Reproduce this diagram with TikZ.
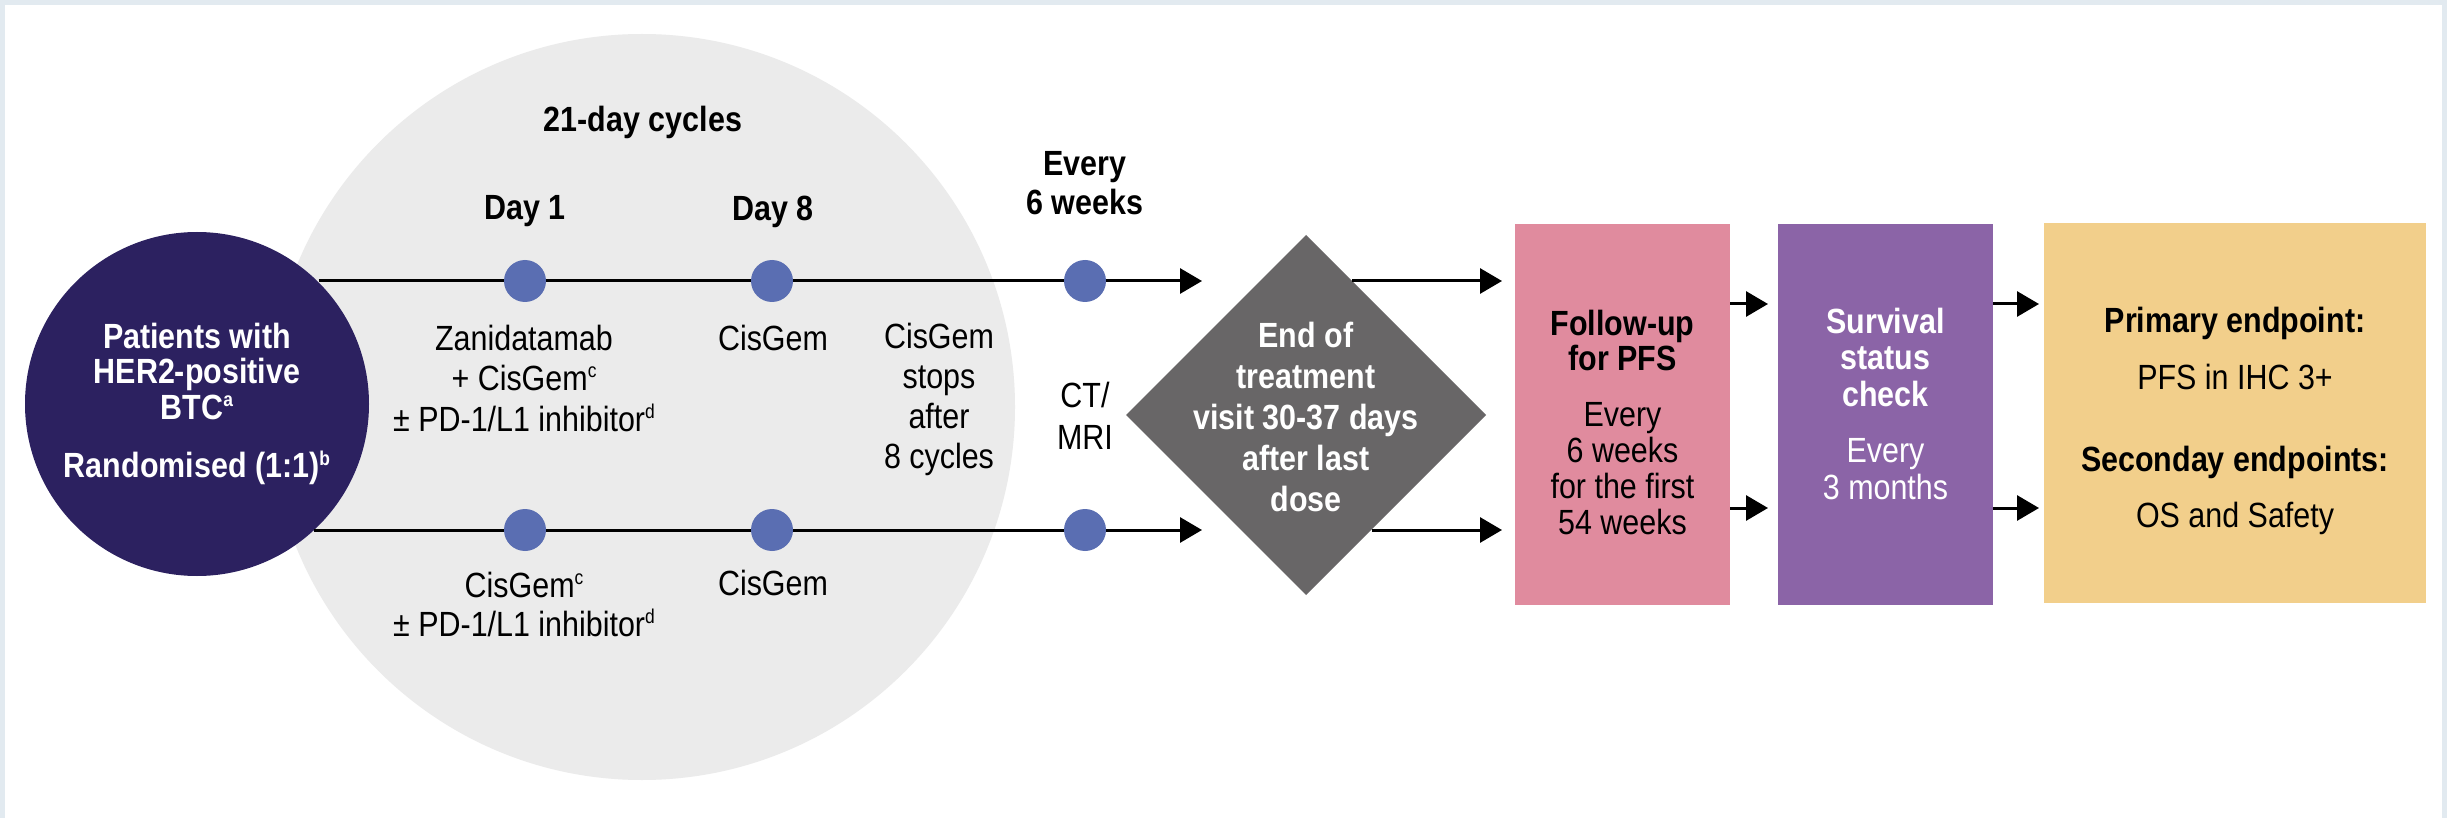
\documentclass[tikz,border=0pt]{standalone}
\usepackage{fontspec}
\setmainfont{Liberation Sans}[FakeStretch=0.87]
\usetikzlibrary{arrows.meta,shapes.geometric}

\definecolor{framebg}{HTML}{E2EAF0}
\definecolor{navy}{HTML}{2C2160}
\definecolor{cyclegrey}{HTML}{EBEBEB}
\definecolor{dotblue}{HTML}{5A6EB2}
\definecolor{diamgrey}{HTML}{686667}
\definecolor{pinkbox}{HTML}{E08B9E}
\definecolor{purplebox}{HTML}{8B64A7}
\definecolor{yellowbox}{HTML}{F2CF8B}

% small raised footnote letter
\newcommand\fnmark[1]{\raisebox{0.36em}{\fontsize{20}{20}\selectfont #1}}

\begin{document}
\begin{tikzpicture}[x=1pt,y=-1pt,
  every node/.style={inner sep=0pt, outer sep=0pt},
  txt/.style={align=center, font=\fontsize{35}{40}\selectfont},
  btxt/.style={align=center, font=\fontsize{35}{40}\selectfont\bfseries},
  dot/.style={circle, fill=dotblue, minimum size=42pt},
  ln/.style={line width=3pt},
  arr/.style={line width=3pt, -{Triangle[length=22pt,width=25pt]}},
  stagebox/.style={rectangle, minimum width=215pt, minimum height=381pt},
]
\useasboundingbox (0,0) rectangle (2447,818);
% frame
\fill[framebg] (0,0) rectangle (2447,818);
\fill[white] (5,5) rectangle (2442,818);

% treatment cycle area
\node[circle, fill=cyclegrey, minimum size=746pt] (cyc) at (642,407) {};
\node[btxt] (cyclab) at (643,122) {21-day cycles};
\node[btxt] (day1) at (525,211) {Day 1};
\node[btxt] (day8) at (773,212) {Day 8};
\node[btxt, font=\fontsize{35}{39}\selectfont\bfseries] (every) at (1085,183) {Every\\6 weeks};

% randomisation
\node[circle, fill=navy, minimum size=344pt, text=white, align=center,
      font=\fontsize{35}{35.5}\selectfont\bfseries] (pat) at (197,404)
  {Patients with\\HER2-positive\\BTC\fnmark{a}\\[23pt]Randomised (1:1)\fnmark{b}};

% timeline dots
\node[dot] (d1t) at (525,281) {};
\node[dot] (d8t) at (772,281) {};
\node[dot] (e6t) at (1085,281) {};
\node[dot] (d1b) at (525,530) {};
\node[dot] (d8b) at (772,530) {};
\node[dot] (e6b) at (1085,530) {};
\coordinate (tipT) at (1202,281);
\coordinate (tipB) at (1202,530);

% timelines
\draw[ln] (pat.45.65 |- d1t) -- (d1t);
\draw[ln] (d1t) -- (d8t);
\draw[ln] (d8t) -- (e6t);
\draw[arr] (e6t) -- (tipT);
\draw[ln] (pat.-47.1 |- d1b) -- (d1b);
\draw[ln] (d1b) -- (d8b);
\draw[ln] (d8b) -- (e6b);
\draw[arr] (e6b) -- (tipB);

% arm labels
\node[txt, font=\fontsize{35}{40.5}\selectfont] (armA1) at (524,378)
  {Zanidatamab\\+ CisGem\fnmark{c}\\± PD-1/L1 inhibitor\fnmark{d}};
\node[txt] (armA8) at (773,338) {CisGem};
\node[txt] (stops) at (939,399) {CisGem\\stops\\after\\8 cycles};
\node[txt, font=\fontsize{35}{42}\selectfont] (ctmri) at (1085,416) {CT/\\MRI};
\node[txt, font=\fontsize{35}{39}\selectfont] (armB1) at (524,604)
  {CisGem\fnmark{c}\\± PD-1/L1 inhibitor\fnmark{d}};
\node[txt] (armB8) at (773,583) {CisGem};

% end of treatment
\node[diamond, aspect=1, fill=diamgrey, minimum width=360pt, minimum height=360pt] (eot) at (1306,415) {};
\node[btxt, text=white, font=\fontsize{35}{41}\selectfont\bfseries] (eottxt) at (1306,417)
  {End of\\treatment\\visit 30-37 days\\after last\\dose};

% follow-up stages
\node[stagebox, fill=pinkbox] (pink) at (1622.5,414.5) {};
\node[stagebox, fill=purplebox] (purple) at (1885.5,414.5) {};
\node[rectangle, fill=yellowbox, minimum width=382pt, minimum height=380pt] (yellow) at (2235,413) {};

\node[btxt, font=\fontsize{35}{35}\selectfont\bfseries] (fuA) at (1622.5,340) {Follow-up\\for PFS};
\node[txt, font=\fontsize{35}{36}\selectfont] (fuB) at (1622.5,469) {Every\\6 weeks\\for the first\\54 weeks};
\node[btxt, text=white, font=\fontsize{35}{36.5}\selectfont\bfseries] (svA) at (1885.5,357) {Survival\\status\\check};
\node[txt, text=white, font=\fontsize{35}{37}\selectfont] (svB) at (1885.5,469) {Every\\3 months};

\node[btxt] (ep1) at (2235,323) {Primary endpoint:};
\node[txt] (ep2) at (2235,377) {PFS in IHC 3+};
\node[btxt] (ep3) at (2235,462) {Seconday endpoints:};
\node[txt] (ep4) at (2235,518) {OS and Safety};

% connectors between stages
\draw[arr, shorten >=13pt] (eot.71.05 |- e6t) -- (pink.west |- e6t);
\draw[arr, shorten >=13pt] (eot.-60.53 |- e6b) -- (pink.west |- e6b);
\draw[arr, shorten >=10pt] ([yshift=110.5pt]pink.east) -- ([yshift=110.5pt]purple.west);
\draw[arr, shorten >=10pt] ([yshift=-93.5pt]pink.east) -- ([yshift=-93.5pt]purple.west);
\draw[arr, shorten >=5pt] ([yshift=110.5pt]purple.east) -- ([yshift=110.5pt]purple.east -| yellow.west);
\draw[arr, shorten >=5pt] ([yshift=-93.5pt]purple.east) -- ([yshift=-93.5pt]purple.east -| yellow.west);
\end{tikzpicture}
\end{document}
